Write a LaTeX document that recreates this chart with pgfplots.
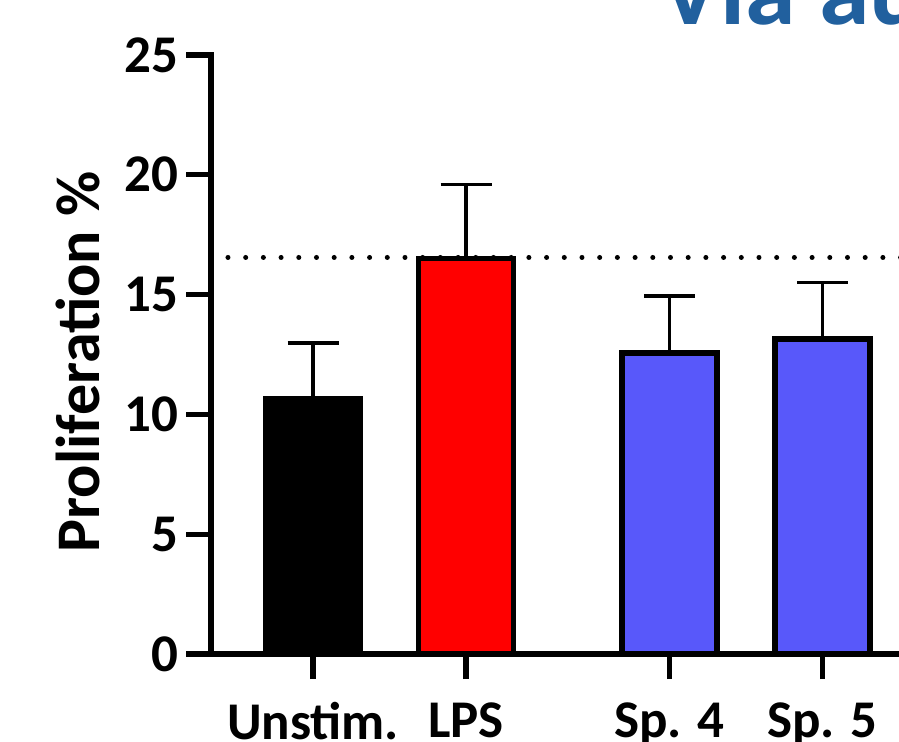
\documentclass[border=0pt]{standalone}
\usepackage{pgfplots}
\pgfplotsset{compat=1.18}
\usepackage{fontspec}
\setmainfont{Carlito}
\definecolor{barblue}{RGB}{88,88,250}
\definecolor{titleblue}{RGB}{33,96,158}
\begin{document}
\begin{tikzpicture}
\useasboundingbox (0,0) rectangle (449.5pt,370.5pt);
\clip (0,0) rectangle (449.5pt,370.5pt);
\node[anchor=base west, inner sep=0pt, text=titleblue, font=\fontsize{51}{56}\selectfont\bfseries] at (330pt,358pt) {Via autophagy};
\begin{axis}[
  at={(105.5pt,43.5pt)}, anchor=south west,
  x=76.5pt, y=11.98pt,
  xmin=-0.667, xmax=4.6, ymin=0, ymax=25,
  axis x line*=bottom, axis y line*=left,
  axis line style={line width=2.6pt, line cap=rect},
  every tick/.style={line width=2.6pt, black},
  major tick length=12.5pt,
  tick align=outside,
  xtick={0,1,2.33,3.33},
  xticklabels={Unstim., LPS, Sp. 4, Sp. 5},
  ytick={0,5,10,15,20,25},
  font=\fontsize{26.5}{30}\selectfont\bfseries,
  /pgf/number format/assume math mode=true,
  yticklabel style={inner sep=0pt, xshift=-3.5pt},
  xticklabel style={inner sep=0pt, yshift=-11.5pt},
  ylabel={Proliferation \%},
  every axis y label/.style={at={(rel axis cs:0,0.5)}, rotate=90, anchor=center, font=\fontsize{31}{34}\selectfont\bfseries, yshift=66.5pt, xshift=-3.75pt},
  clip=false,
]
\addplot[forget plot, black, line width=2.5pt, line cap=round, dash pattern=on 0pt off 8.85pt] coordinates {(-0.556,16.55) (4.6,16.55)};
\addplot[ybar, bar width=47.5pt, bar shift=0pt, fill=black, draw=black, line width=2.75pt,
  error bars/.cd, y dir=plus, y explicit,
  error bar style={line width=1.6pt, black},
  error mark options={rotate=90, mark size=12.75pt, line width=1.6pt, black}]
  coordinates {(0,10.66) +- (0,2.32)};
\addplot[ybar, bar width=47.5pt, bar shift=0pt, fill=red, draw=black, line width=2.75pt,
  error bars/.cd, y dir=plus, y explicit,
  error bar style={line width=1.6pt, black},
  error mark options={rotate=90, mark size=12.75pt, line width=1.6pt, black}]
  coordinates {(1,16.5) +- (0,3.1)};
\addplot[ybar, bar width=47.5pt, bar shift=0pt, fill=barblue, draw=black, line width=2.75pt,
  error bars/.cd, y dir=plus, y explicit,
  error bar style={line width=1.6pt, black},
  error mark options={rotate=90, mark size=12.75pt, line width=1.6pt, black}]
  coordinates {(2.33,12.56) +- (0,2.38)};
\addplot[ybar, bar width=47.5pt, bar shift=0pt, fill=barblue, draw=black, line width=2.75pt,
  error bars/.cd, y dir=plus, y explicit,
  error bar style={line width=1.6pt, black},
  error mark options={rotate=90, mark size=12.75pt, line width=1.6pt, black}]
  coordinates {(3.33,13.15) +- (0,2.35)};
\end{axis}
\end{tikzpicture}
\end{document}
